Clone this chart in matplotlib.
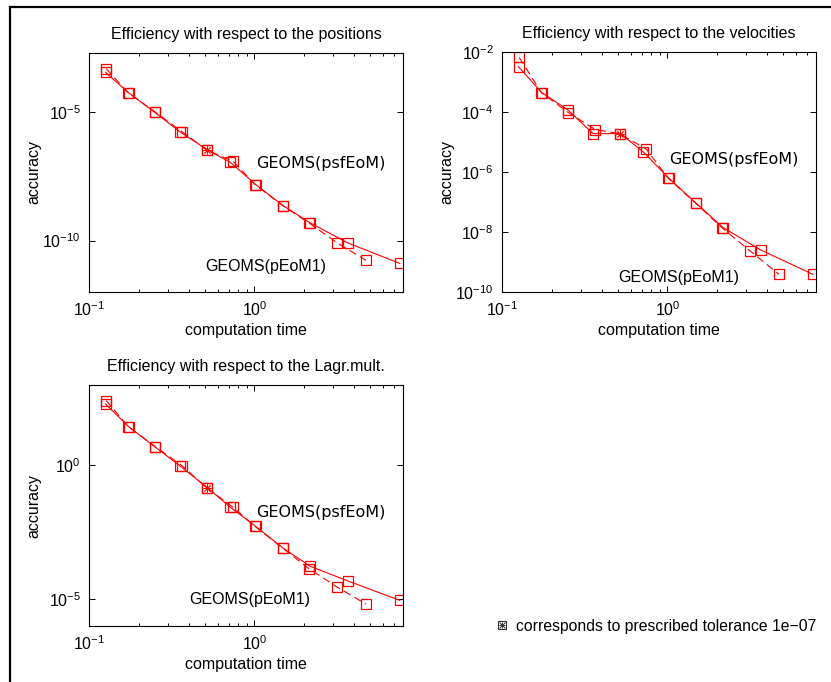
import matplotlib.pyplot as plt
from matplotlib.lines import Line2D
from matplotlib.patches import Rectangle
from matplotlib.ticker import LogLocator, FixedLocator, NullLocator

plt.rcParams['font.family'] = ['Liberation Sans', 'DejaVu Sans']
plt.rcParams['mathtext.fontset'] = 'custom'
plt.rcParams['mathtext.rm'] = 'Liberation Sans'
plt.rcParams['font.size'] = 11.5

# computation times (s) of the two integrators
t_psf = [0.126, 0.174, 0.249, 0.355, 0.52, 0.716, 1.02, 1.49, 2.17, 3.67, 7.55]
t_pe = [0.127, 0.173, 0.252, 0.366, 0.514, 0.744, 1.01, 1.48, 2.13, 3.17, 4.72]
tol_idx = 4  # run with prescribed tolerance 1e-07

# accuracy, solid = psfEoM, dashed = pEoM1
pos_psf = [3.5e-4, 5.6e-5, 1.0e-5, 1.7e-6, 3.4e-7, 1.1e-7, 1.5e-8, 2.3e-9, 4.9e-10, 8.1e-11, 1.3e-11]
pos_pe = [4.9e-4, 5.6e-5, 1.0e-5, 1.7e-6, 3.4e-7, 1.2e-7, 1.5e-8, 2.3e-9, 4.9e-10, 8.1e-11, 1.7e-11]
vel_psf = [3.2e-3, 4.4e-4, 1.2e-4, 1.9e-5, 1.9e-5, 4.6e-6, 6.2e-7, 9.1e-8, 1.4e-8, 2.5e-9, 3.9e-10]
vel_pe = [6.6e-3, 4.4e-4, 9.5e-5, 2.6e-5, 1.9e-5, 5.8e-6, 6.2e-7, 9.1e-8, 1.4e-8, 2.3e-9, 3.9e-10]
lag_psf = [195, 27.5, 5.0, 0.95, 0.145, 0.027, 5.2e-3, 8.1e-4, 1.7e-4, 4.8e-5, 9.1e-6]
lag_pe = [263, 27.5, 5.0, 0.95, 0.145, 0.027, 5.2e-3, 8.1e-4, 1.4e-4, 2.8e-5, 6.6e-6]

titles = ['Efficiency with respect to the positions',
          'Efficiency with respect to the velocities',
          'Efficiency with respect to the Lagr.mult.']
ylims = [(1e-12, 2e-3), (1e-10, 1e-2), (1e-6, 1e3)]
yticks = [[1e-10, 1e-5], [1e-10, 1e-8, 1e-6, 1e-4, 1e-2], [1e-5, 1e0]]
xticks = [0.1, 1.0]
panels = [(pos_psf, pos_pe), (vel_psf, vel_pe), (lag_psf, lag_pe)]

# text label positions (axes fraction)
lab_psf = [(0.532, 0.536), (0.533, 0.554), (0.532, 0.47)]
lab_pe = [(0.369, 0.105), (0.370, 0.060), (0.319, 0.108)]

W, H = 831, 682
fig = plt.figure(figsize=(W / 100, H / 100), dpi=100)

rects = [(89, 53, 403, 292), (502, 52, 816, 292), (89, 385, 403, 626)]
red = '#ff0000'

for k, (x0, y0, x1, y1) in enumerate(rects):
    ax = fig.add_axes([x0 / W, 1 - y1 / H, (x1 - x0) / W, (y1 - y0) / H])
    a_psf, a_pe = panels[k]
    ax.plot(t_psf, a_psf, '-', color=red, lw=0.8, marker='s', ms=7,
            mfc='none', mec=red, mew=0.9)
    ax.plot(t_pe, a_pe, '--', color=red, lw=0.8, marker='s', ms=7,
            mfc='none', mec=red, mew=0.9, dashes=(7, 4))
    for t, a in ((t_psf, a_psf), (t_pe, a_pe)):
        ax.plot(t[tol_idx], a[tol_idx], marker='x', ms=5, color=red, mew=0.7)
        ax.plot(t[tol_idx], a[tol_idx], marker='+', ms=6, color=red, mew=0.7)
    ax.set_xscale('log')
    ax.set_yscale('log')
    ax.set_xlim(0.1, 7.9)
    ax.set_ylim(*ylims[k])
    ax.xaxis.set_major_locator(FixedLocator(xticks))
    ax.xaxis.set_minor_locator(LogLocator(base=10, subs=range(2, 10)))
    ax.yaxis.set_major_locator(FixedLocator(yticks[k]))
    ax.yaxis.set_minor_locator(NullLocator())
    ax.tick_params(which='both', direction='in', top=True, right=True,
                   labelsize=11.5, width=0.7)
    ax.tick_params(which='major', length=4, pad=6)
    ax.tick_params(which='minor', length=2.5)
    for s in ax.spines.values():
        s.set_linewidth(0.8)
    ax.set_title(titles[k], fontsize=11.5, pad=10)
    ax.set_xlabel('computation time', fontsize=11.5, labelpad=3)
    ax.set_ylabel('accuracy', fontsize=11.5)
    ax.yaxis.set_label_coords(-48 / (x1 - x0), 0.5)
    ax.text(*lab_psf[k], 'GEOMS(psfEoM)', transform=ax.transAxes,
            family='DejaVu Sans', fontsize=11.5, va='center', ha='left')
    ax.text(*lab_pe[k], 'GEOMS(pEoM1)', transform=ax.transAxes,
            fontsize=11.5, va='center', ha='left')

# note about the marked runs
mx, my = 502 / W, 1 - 625 / H
fig.add_artist(Line2D([mx], [my], transform=fig.transFigure, marker='s', ms=6,
                      mfc='none', mec='#333333', mew=0.8))
fig.add_artist(Line2D([mx], [my], transform=fig.transFigure, marker='x', ms=4,
                      color='#333333', mew=0.7))
fig.add_artist(Line2D([mx], [my], transform=fig.transFigure, marker='+', ms=5,
                      color='#333333', mew=0.7))
fig.text(516 / W, 1 - 626 / H, 'corresponds to prescribed tolerance 1e\u221207',
         fontsize=11.3, va='center', ha='left')

# outer frame (cropped on the right and bottom)
fig.add_artist(Rectangle((10 / W, -0.1), 1.2, 1.1 - 7 / H, transform=fig.transFigure,
                         fill=False, ec='black', lw=1.6))

fig.savefig('out.png', dpi=100)
